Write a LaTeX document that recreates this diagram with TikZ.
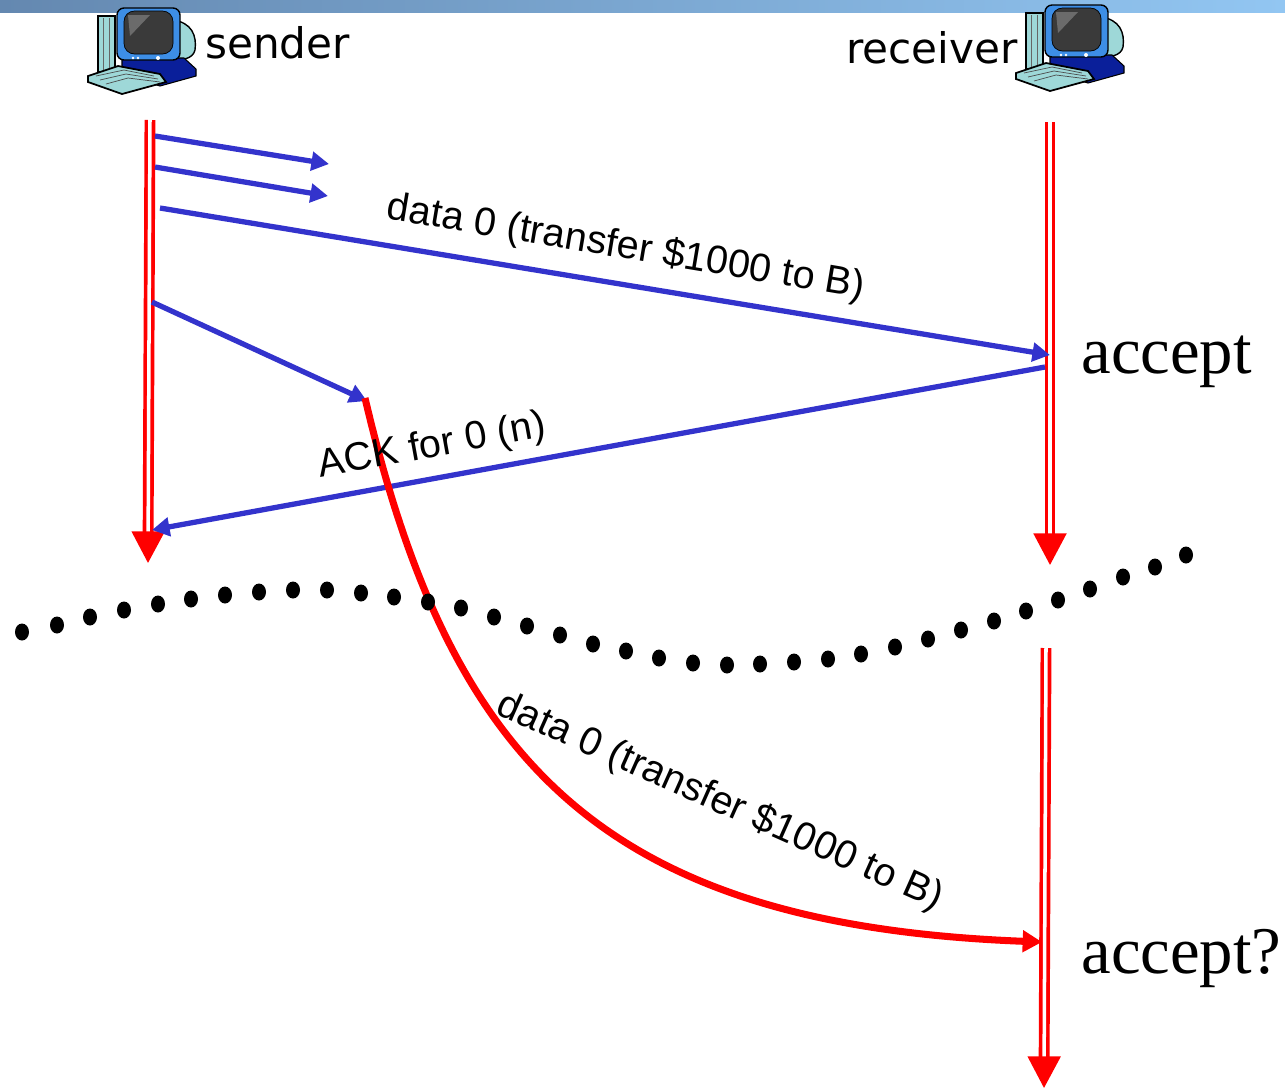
\documentclass[tikz,border=0pt]{standalone}
\usepackage{fontspec}
\setmainfont{Liberation Serif}
\setsansfont{Liberation Sans}
\newfontfamily\hostfont{DejaVu Sans}
\usetikzlibrary{arrows.meta}

\definecolor{msgblue}{HTML}{3333CC}
\definecolor{barleft}{HTML}{6488B0}
\definecolor{barright}{HTML}{92C6F2}
\definecolor{pcteal}{HTML}{9ED8D8}
\definecolor{pcblue}{HTML}{3D8EE6}
\definecolor{pcnavy}{HTML}{0A1F9A}
\definecolor{pcscreen}{HTML}{3A3A3A}

% Ordenador (origen en la esquina superior izquierda)
\tikzset{
    pics/pc/.style={code={
        \filldraw[fill=pcteal, draw=black, line width=0.6pt] (10,10) rectangle (27,66);
        \draw[black!60, line width=0.4pt] (15,12) -- (15,64) (21,12) -- (21,64);
        \filldraw[fill=pcteal, draw=black, line width=0.8pt]
            (84,14) .. controls (104,16) and (109,30) .. (107,44)
            .. controls (105,53) and (93,55) .. (86,52) -- cycle;
        \filldraw[fill=pcnavy, draw=black, line width=0.6pt]
            (34,52) -- (96,52) -- (108,63) -- (108,70) -- (72,80) -- (34,68) -- cycle;
        \filldraw[fill=pcblue, draw=black, line width=0.8pt, rounded corners=4pt] (29,2) rectangle (92,54);
        \filldraw[fill=pcscreen, draw=black, rounded corners=6pt] (36,5) rectangle (85,48);
        \fill[white, opacity=0.25] (40,9) -- (62,9) -- (42,30) -- cycle;
        \fill[white] (45,52) circle[radius=1.4] (50,52) circle[radius=1.4] (70,52) circle[radius=2];
        \filldraw[fill=pcteal, draw=black, line width=1pt]
            (0,70) -- (30,60) -- (72,68) -- (78,76) -- (34,88) -- (0,76) -- cycle;
        \draw[black!70, line width=0.4pt] (8,70) -- (36,64) -- (66,70)
            (12,74) -- (38,68) -- (70,73) (18,78) -- (40,72) -- (72,76);
    }}
}

\begin{document}
\begin{tikzpicture}[
        x=0.02cm, y=-0.02cm,
        lifeline/.style={
            draw=red,
            double=white,
            double distance=2pt,
            line width=2.1pt,
            -{Triangle[length=18pt,width=18.5pt]}
        },
        msg/.style={
            draw=msgblue,
            line width=3pt,
            -{Triangle[length=10pt,width=10.5pt]}
        },
        lost/.style={
            draw=red,
            line width=4pt,
            -{Triangle[length=11pt,width=12pt]}
        },
        lbl/.style={font=\sffamily\fontsize{22.5}{27}\selectfont, inner sep=0pt},
        host/.style={font=\hostfont\fontsize{24}{28}\selectfont, inner sep=0pt},
        verdict/.style={font=\fontsize{38}{44}\selectfont, inner sep=0pt}
    ]

    \useasboundingbox (0,0) rectangle (1285,1090);

    % Barra superior
    \shade[left color=barleft, right color=barright] (0,0) rectangle (1285,12);

    % Hosts
    \pic (pcs) at (88,6) {pc};
    \pic (pcr) at (1016,3) {pc};
    \node[host, anchor=base west] (snd) at (205,58)  {sender};
    \node[host, anchor=base east] (rcv) at (1018,63) {receiver};

    % Líneas de tiempo
    \coordinate (st) at (150,120);
    \coordinate (sb) at (148,563);
    \coordinate (rt) at (1050,122);
    \coordinate (rb) at (1050,565);
    \coordinate (rt2) at (1046,648);
    \coordinate (rb2) at (1044,1088);
    \draw[lifeline] (st) -- (sb);
    \draw[lifeline] (rt) -- (rb);
    \draw[lifeline] (rt2) -- (rb2);

    % Mensajes
    \coordinate (a1) at (155,136);  \coordinate (b1) at (329,164);
    \coordinate (a2) at (155,167);  \coordinate (b2) at (328,196);
    \coordinate (a3) at (160,208);  \coordinate (b3) at (1050,355);
    \coordinate (a4) at (152,302);  \coordinate (b4) at (367,401);
    \coordinate (a5) at (1045,367); \coordinate (b5) at (152,530);
    \coordinate (c0) at (365,398);  \coordinate (c1) at (1042,942);

    \draw[msg] (a1) -- (b1);
    \draw[msg] (a2) -- (b2);
    \draw[msg] (a3) -- (b3);
    \draw[msg] (a4) -- (b4);
    \draw[msg] (a5) -- (b5);
    \draw[lost] (c0) .. controls (450,760) and (600,925) .. (c1);

    \node[lbl, rotate=-9.5] (d0) at (626,248) {data 0 (transfer \$1000 to B)};
    \node[lbl, rotate=10.3] (ack) at (432,447) {ACK for 0 (n)};
    \node[lbl, rotate=-24]  (d1) at (720,802) {data 0 (transfer \$1000 to B)};

    \node[verdict, anchor=base west] (acc) at (1081,373) {accept};
    \node[verdict, anchor=base west] (acc2) at (1081,973) {accept?};

    % Corte de conexión
    \foreach \px/\py in {22/632, 57/625, 90/617, 124/610, 158/604, 191/599,
        225/595, 259/592, 293/590, 327/590, 361/593, 394/597, 428/602,
        461/608, 494/617, 527/626, 560/635, 593/644, 626/651, 659/658,
        693/663, 727/665, 760/664, 794/662, 828/659, 861/654, 895/647,
        928/639, 961/630, 994/621, 1026/611, 1058/600, 1090/589,
        1123/577, 1155/567, 1186/555}
        \fill (\px,\py) ellipse [x radius=7, y radius=8.5];

\end{tikzpicture}
\end{document}
